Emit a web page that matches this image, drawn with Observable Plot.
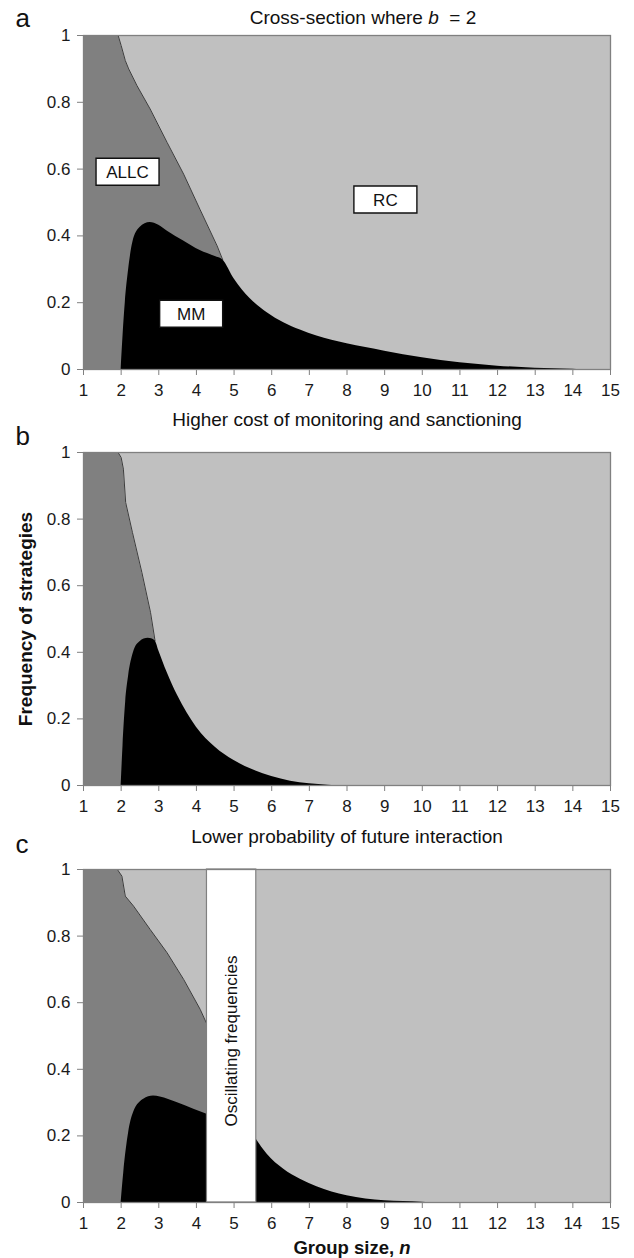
<!DOCTYPE html>
<html><head><meta charset="utf-8">
<script src="https://cdn.jsdelivr.net/npm/d3@7"></script>
<script src="https://cdn.jsdelivr.net/npm/@observablehq/plot@0.6"></script>
<style>
body{margin:0;background:#fff;font-family:"Liberation Sans",Arial,sans-serif;}
#page{position:relative;width:634px;height:1258px;overflow:hidden;background:#fff;}
.abs{position:absolute;line-height:1;white-space:nowrap;color:#111;}
.panel{position:absolute;left:0;}
</style></head><body><div id="page"></div>
<script>
// ---------- data ----------
const xTicks = [1,2,3,4,5,6,7,8,9,10,11,12,13,14,15];
const yTicks = [0,0.2,0.4,0.6,0.8,1];
const strategyColors = {RC:"#c0c0c0", ALLC:"#808080", MM:"#000000"};

// Panel a: higher cost of monitoring and sanctioning
// upper edge of ALLC (ALLC + MM), boundary with RC  [n, frequency]
const aAllcTop = [[1,1],[1.92,1],[2.0,0.97],[2.11,0.925],[2.2,0.9],[2.42,0.85],[2.77,0.78],[3.22,0.68],[3.66,0.585],[4.1,0.478],[4.55,0.37],[4.7,0.328]];
// upper edge of MM
const aMmTop = [[2,0],[2.05,0.10],[2.11,0.2],[2.2,0.3],[2.31,0.38],[2.5,0.425],[2.77,0.44],[3.0,0.432],[3.22,0.415],[3.66,0.385],[4.1,0.356],[4.5,0.338],[4.7,0.328],[5.0,0.272],[5.43,0.212],[5.88,0.17],[6.32,0.14],[6.76,0.118],[7.2,0.1],[8,0.077],[9,0.055],[10,0.035],[11,0.02],[12,0.01],[13,0.004],[14,0.001],[14.2,0]];

// Panel b: lower probability of future interaction
const bAllcTop = [[1,1],[1.92,1],[2.0,0.985],[2.06,0.95],[2.12,0.85],[2.3,0.76],[2.55,0.64],[2.78,0.52],[2.9,0.435]];
const bMmTop = [[2,0],[2.05,0.12],[2.12,0.25],[2.2,0.33],[2.33,0.40],[2.5,0.432],[2.72,0.442],[2.9,0.435],[3.0,0.405],[3.22,0.34],[3.5,0.27],[4.0,0.175],[4.5,0.115],[5.0,0.075],[5.5,0.047],[6.0,0.027],[6.5,0.013],[7.0,0.005],[7.5,0.001],[7.7,0]];

// Panel c: group size, n
const cAllcTop = [[1,1],[1.9,1],[2.02,0.98],[2.11,0.92],[2.33,0.89],[2.77,0.82],[3.22,0.75],[3.66,0.67],[4.1,0.58],[4.28,0.535]];
const cMmTopLeft = [[2,0],[2.07,0.09],[2.2,0.21],[2.33,0.27],[2.6,0.31],[2.86,0.32],[3.04,0.317],[3.48,0.30],[3.93,0.28],[4.28,0.265]];
const cMmTopRight = [[5.59,0.19],[5.88,0.145],[6.32,0.1],[6.76,0.07],[7.2,0.047],[8,0.02],[9,0.005],[10,0.001],[10.2,0]];
const cOscillating = [{x1:4.28, x2:5.59, label:"Oscillating frequencies"}];

// region labels in panel a
const aLabels = [
  {strategy:"ALLC", n:2.17, f:0.592},
  {strategy:"MM",   n:3.86, f:0.167},
  {strategy:"RC",   n:9.02, f:0.509}
];

// ---------- drawing ----------
const FONT = "'Liberation Sans', Arial, sans-serif";
const px = d => d[0], py = d => d[1];
const boxSymbol = {draw(ctx){ ctx.rect(-31.5, -13.5, 63, 27); }};

function panel({allc, mm, labels, osc, plotH, marginTop}) {
  const marginBottom = 34;
  const marks = [
    Plot.frame({fill: strategyColors.RC}),
    Plot.areaY(allc, {x: px, y: py, fill: strategyColors.ALLC}),
    Plot.line(allc.filter(d => d[1] > 0), {x: px, y: py, stroke: "#3c3c3c", strokeWidth: 1}),
  ];
  mm.forEach(seg => marks.push(Plot.areaY(seg, {x: px, y: py, fill: strategyColors.MM, curve: "monotone-x"})));
  if (osc) {
    marks.push(Plot.rect(osc, {x1: "x1", x2: "x2", fill: "white", stroke: "#808080", strokeWidth: 1.2}));
    marks.push(Plot.text(osc, {x: d => (d.x1 + d.x2) / 2, frameAnchor: "middle", text: "label", rotate: -90, fontSize: 17, fill: "#111", dy: 5}));
  }
  if (labels) {
    marks.push(Plot.dot(labels, {x: "n", y: "f", symbol: boxSymbol, fill: "white", stroke: "#111", strokeWidth: 1.4, r: 10}));
    marks.push(Plot.text(labels, {x: "n", y: "f", text: "strategy", fontSize: 17, fill: "#111", dy: 1}));
  }
  marks.push(Plot.frame({stroke: "#808080", strokeWidth: 1.3}));
  marks.push(Plot.axisX({ticks: xTicks, tickSize: 6, tickPadding: 8, stroke: "#808080", fill: "#1a1a1a", fontSize: 17, label: null}));
  marks.push(Plot.axisY({ticks: yTicks, tickSize: 6, tickPadding: 7, tickFormat: d3.format("~g"), stroke: "#808080", fill: "#1a1a1a", fontSize: 17, label: null}));
  return Plot.plot({
    width: 634, height: marginTop + plotH + marginBottom,
    marginLeft: 83, marginRight: 24, marginTop, marginBottom,
    x: {domain: [1, 15]}, y: {domain: [0, 1]},
    style: {fontFamily: FONT, fontSize: "17px", background: "transparent", overflow: "visible"},
    marks
  });
}

const page = document.getElementById("page");
function place(el, top) { const d = document.createElement("div"); d.className = "panel"; d.style.top = top + "px"; d.appendChild(el); page.appendChild(d); }

place(panel({allc: aAllcTop, mm: [aMmTop], labels: aLabels, plotH: 334, marginTop: 35}), 0);
place(panel({allc: bAllcTop, mm: [bMmTop], plotH: 333, marginTop: 10}), 442);
place(panel({allc: cAllcTop, mm: [cMmTopLeft, cMmTopRight], osc: cOscillating, plotH: 333, marginTop: 10}), 859);

function txt(html, {x, baseline, size, bold, center, rotate}) {
  const d = document.createElement("div");
  d.className = "abs";
  d.innerHTML = html;
  d.style.fontSize = size + "px";
  if (bold) d.style.fontWeight = "bold";
  if (rotate) {
    d.style.left = x + "px"; d.style.top = baseline + "px";
    d.style.transform = "translate(-50%,-50%) rotate(-90deg)";
  } else {
    d.style.top = (baseline - 0.8465 * size) + "px";
    d.style.left = x + "px";
    if (center) d.style.transform = "translateX(-50%)";
  }
  page.appendChild(d);
}
txt("a", {x: 15.5, baseline: 26.7, size: 26});
txt("b", {x: 15.5, baseline: 445, size: 26});
txt("c", {x: 15.5, baseline: 853.3, size: 26});
txt("Cross-section where <i>b</i>&nbsp; = 2", {x: 363, baseline: 24, size: 19, center: true});
txt("Higher cost of monitoring and sanctioning", {x: 347, baseline: 426, size: 19, center: true});
txt("Lower probability of future interaction", {x: 347, baseline: 843.5, size: 19, center: true});
txt("Group size, <i>n</i>", {x: 352, baseline: 1255, size: 18.5, bold: true, center: true});
txt("Frequency of strategies", {x: 25, baseline: 618.5, size: 19, bold: true, rotate: true});
</script></body></html>
